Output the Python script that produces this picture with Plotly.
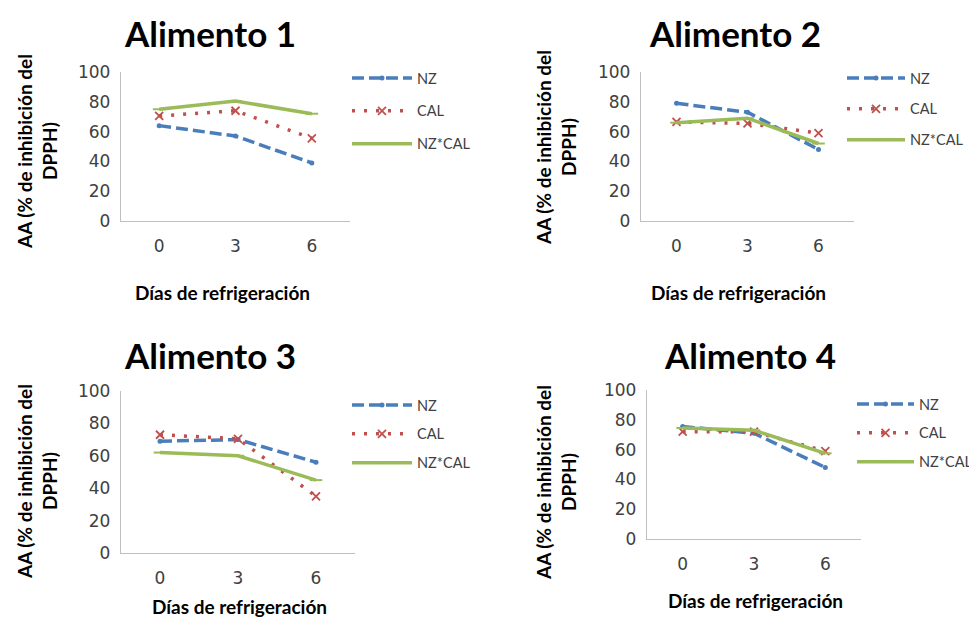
import plotly.graph_objects as go

W, H = 977, 618
OFF = 8  # page body margin offset

dias = ["0", "3", "6"]
series_names = ["NZ", "CAL", "NZ*CAL"]
titulos = ["Alimento 1", "Alimento 2", "Alimento 3", "Alimento 4"]

nz_1 = [64, 57, 39]
cal_1 = [70.5, 74, 55.5]
nzcal_1 = [75, 80.5, 72]

nz_2 = [79, 73, 48]
cal_2 = [66.5, 65.5, 59]
nzcal_2 = [66, 69, 52]

nz_3 = [69, 70, 56]
cal_3 = [73, 70.5, 35]
nzcal_3 = [62, 60, 45]

nz_4 = [75.5, 71, 48]
cal_4 = [72, 72, 59]
nzcal_4 = [74.5, 73, 57.5]

y_ticks = [0, 20, 40, 60, 80, 100]

data = [
    (nz_1, cal_1, nzcal_1),
    (nz_2, cal_2, nzcal_2),
    (nz_3, cal_3, nzcal_3),
    (nz_4, cal_4, nzcal_4),
]

def px_x(x):
    return (x - OFF) / W

def px_y(y):
    return 1 - (y - OFF) / H

areas = [
    (121, 350, 72, 221),
    (641, 854, 72, 221),
    (121, 355, 391, 553),
    (647, 861, 390, 539),
]
legends = [
    (347, 62, 60, 11),
    (842, 62, 58, 9),
    (347, 389, 60, 7),
    (852, 388, 57, 7),
]
titles_pos = [(210, 33), (735, 33), (210, 355), (750, 355)]
ytitle_pos = [(37, 152), (556, 148), (37, 482), (556, 483)]
xtitle_pos = [(222, 292), (738, 292), (239, 606), (755, 600)]

styles = [
    dict(color="#4A7EBB", dash="12px,5px", width=3.5, marker=dict(symbol="circle", size=5, color="#4A7EBB")),
    dict(color="#C0504D", dash="3px,9px", width=3.5, marker=dict(symbol="x-thin", size=8, color="#C0504D", line=dict(width=1.8, color="#C0504D"))),
    dict(color="#9BBB59", dash="solid", width=3.5, marker=dict(symbol="line-ew", size=9, color="#9BBB59", line=dict(width=2, color="#9BBB59"))),
]

fig = go.Figure()
layout = dict(
    width=W, height=H, autosize=False,
    margin=dict(l=0, r=0, t=0, b=0, autoexpand=False),
    paper_bgcolor="white", plot_bgcolor="white",
    showlegend=True,
)
annotations = []

for i, (series, area) in enumerate(zip(data, areas)):
    n = "" if i == 0 else str(i + 1)
    xa, ya = "x" + n, "y" + n
    lg = "legend" + n
    for j, vals in enumerate(series):
        st = styles[j]
        fig.add_trace(go.Scatter(
            x=dias, y=vals, name=series_names[j], mode="lines+markers",
            line=dict(color=st["color"], dash=st["dash"], width=st["width"]),
            marker=st["marker"],
            xaxis=xa, yaxis=ya, legend=lg, legendgroup=f"p{i}s{j}",
            hoverinfo="skip",
        ))
    x0, x1, yt, yb = area
    layout["xaxis" + n] = dict(
        domain=[px_x(x0), px_x(x1)], anchor=ya, type="category",
        range=[-0.5, 2.5], showgrid=False, zeroline=False,
        showline=True, linecolor="#BFBFBF", linewidth=1.3,
        ticks="", tickfont=dict(family="DejaVu Sans", size=17, color="#404040"),
        ticklabelstandoff=9,
    )
    layout["yaxis" + n] = dict(
        domain=[px_y(yb), px_y(yt)], anchor=xa,
        range=[0, 100], tickvals=y_ticks, showgrid=False, zeroline=False,
        showline=True, linecolor="#BFBFBF", linewidth=1.3,
        ticks="", tickfont=dict(family="DejaVu Sans", size=17, color="#404040"),
        ticklabelstandoff=6,
    )
    lx, ly, iw, gap = legends[i]
    layout[lg] = dict(
        x=px_x(lx), y=px_y(ly), xanchor="left", yanchor="top",
        bgcolor="rgba(0,0,0,0)", itemwidth=iw, tracegroupgap=gap,
        font=dict(family="Lato", size=14.5, color="#404040"),
    )
    tx, ty = titles_pos[i]
    annotations.append(dict(
        text="<b>" + titulos[i] + "</b>", x=px_x(tx), y=px_y(ty),
        xref="paper", yref="paper", showarrow=False,
        xanchor="center", yanchor="middle",
        font=dict(family="Lato", size=35, color="black"),
    ))
    yx, yy = ytitle_pos[i]
    annotations.append(dict(
        text="<b>AA (% de inhibición del<br>DPPH)</b>", x=px_x(yx), y=px_y(yy),
        xref="paper", yref="paper", showarrow=False, textangle=-90,
        xanchor="center", yanchor="middle",
        font=dict(family="Lato", size=19, color="black"),
    ))
    xx, xy = xtitle_pos[i]
    annotations.append(dict(
        text="<b>Días de refrigeración</b>", x=px_x(xx), y=px_y(xy),
        xref="paper", yref="paper", showarrow=False,
        xanchor="center", yanchor="middle",
        font=dict(family="Lato", size=19, color="black"),
    ))

layout["annotations"] = annotations
fig.update_layout(**layout)
fig.write_html("out.html")
